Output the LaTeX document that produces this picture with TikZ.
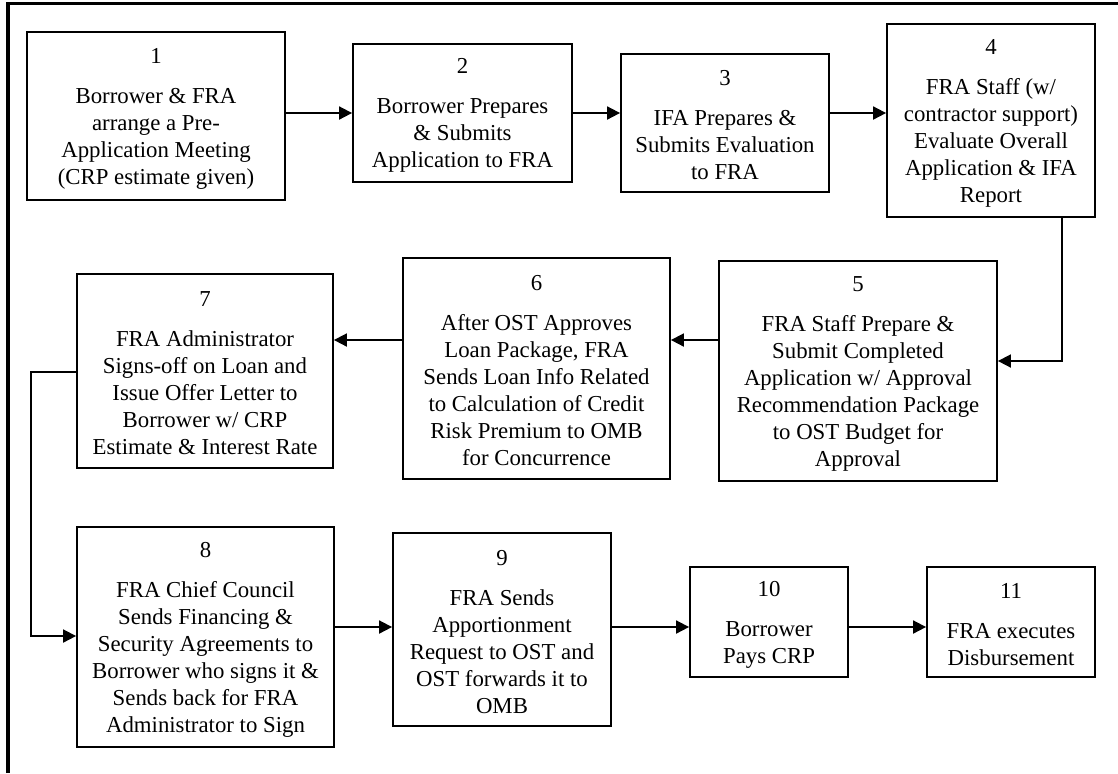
\documentclass[tikz,border=0pt]{standalone}
\usepackage{fontspec}
\setmainfont{Liberation Serif}
\usetikzlibrary{arrows.meta}
\newcommand\stepnum[1]{\rule{0pt}{10pt}#1\\[6.5pt]}
\begin{document}
\begin{tikzpicture}[x=0.5pt,y=-0.5pt,
  stepbox/.style={draw,line width=0.9pt,inner sep=0pt,align=center,
    font=\fontsize{11.4}{13.5}\selectfont},
  span/.style n args={4}{at={({(#1+#3)/2},{(#2+#4)/2})},anchor=center,
    minimum width={(#3-#1)*0.5pt},minimum height={(#4-#2)*0.5pt}},
  arr/.style={line width=0.9pt,-{Triangle[length=6.5pt,width=6.5pt]}},
  frame/.style={line width=1.6pt}]
\useasboundingbox (0,0) rectangle (1118,773);
% partial outer frame
\coordinate (fbl) at (8,773);
\coordinate (ftl) at (8,3.5);
\coordinate (ftr) at (1118,3.5);
\draw[frame] (fbl) -- (ftl) -- (ftr);
% boxes
\node[stepbox,span={27}{32}{285}{200}] (b1) {\stepnum{1}Borrower \& FRA\\arrange a Pre-\\Application Meeting\\(CRP estimate given)};
\node[stepbox,span={353}{44}{572}{182}] (b2) {\stepnum{2}Borrower Prepares\\\& Submits\\Application to FRA};
\node[stepbox,span={621}{54}{829}{192}] (b3) {\stepnum{3}IFA Prepares \&\\Submits Evaluation\\to FRA};
\node[stepbox,span={887}{24}{1095}{217}] (b4) {\stepnum{4}FRA Staff (w/\\contractor support)\\Evaluate Overall\\Application \& IFA\\Report};
\node[stepbox,span={719}{261}{997}{481}] (b5) {\stepnum{5}FRA Staff Prepare \&\\Submit Completed\\Application w/ Approval\\Recommendation Package\\to OST Budget for\\Approval};
\node[stepbox,span={403}{258}{670}{479}] (b6) {\stepnum{6}After OST Approves\\Loan Package, FRA\\Sends Loan Info Related\\to Calculation of Credit\\Risk Premium to OMB\\for Concurrence};
\node[stepbox,span={77}{274}{333}{468}] (b7) {\stepnum{7}FRA Administrator\\Signs-off on Loan and\\Issue Offer Letter to\\Borrower w/ CRP\\Estimate \& Interest Rate};
\node[stepbox,span={77}{527}{334}{747}] (b8) {\stepnum{8}FRA Chief Council\\Sends Financing \&\\Security Agreements to\\Borrower who signs it \&\\Sends back for FRA\\Administrator to Sign};
\node[stepbox,span={393}{533}{611}{726}] (b9) {\stepnum{9}FRA Sends\\Apportionment\\Request to OST and\\OST forwards it to\\OMB};
\node[stepbox,span={690}{567}{848}{677}] (b10) {\stepnum{10}Borrower\\Pays CRP};
\node[stepbox,span={927}{567}{1095}{677}] (b11) {\stepnum{11}FRA executes\\Disbursement};
% helper coordinates
\coordinate (r1) at (0,113);
\coordinate (r2) at (0,340);
\coordinate (r3) at (0,627);
\coordinate (d45x) at (1062,0);
\coordinate (d45y) at (0,361);
\coordinate (d78a) at (0,372);
\coordinate (d78x) at (31,0);
\coordinate (d78b) at (0,636);
% connectors
\draw[arr] (b1.east |- r1) -- (b2.west |- r1);
\draw[arr] (b2.east |- r1) -- (b3.west |- r1);
\draw[arr] (b3.east |- r1) -- (b4.west |- r1);
\draw[arr] (b4.south -| d45x) -- (d45x |- d45y) -- (b5.east |- d45y);
\draw[arr] (b5.west |- r2) -- (b6.east |- r2);
\draw[arr] (b6.west |- r2) -- (b7.east |- r2);
\draw[arr] (b7.west |- d78a) -- (d78x |- d78a) -- (d78x |- d78b) -- (b8.west |- d78b);
\draw[arr] (b8.east |- r3) -- (b9.west |- r3);
\draw[arr] (b9.east |- r3) -- (b10.west |- r3);
\draw[arr] (b10.east |- r3) -- (b11.west |- r3);
\end{tikzpicture}
\end{document}
